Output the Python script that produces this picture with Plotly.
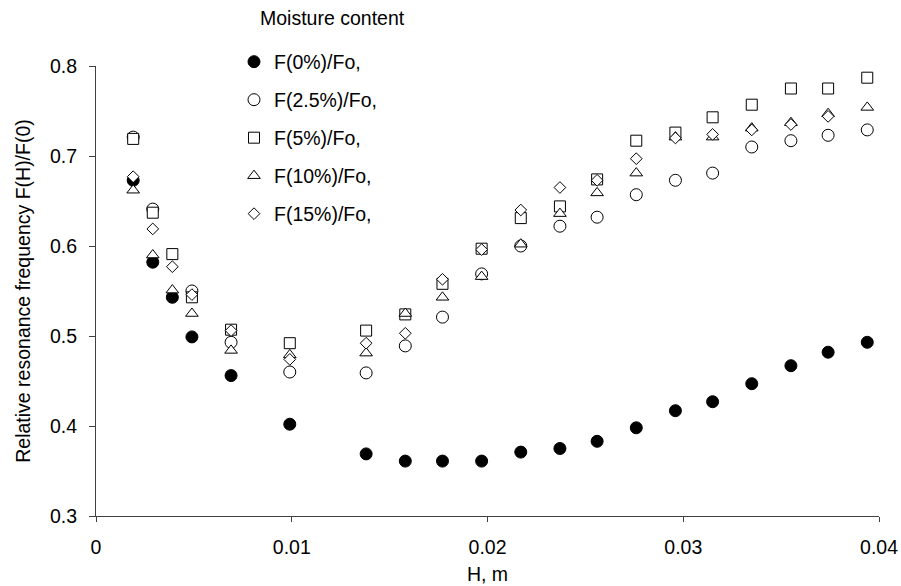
import plotly.graph_objects as go

H = [0.0019, 0.0029, 0.0039, 0.0049, 0.0069, 0.0099, 0.0138, 0.0158, 0.0177, 0.0197,
     0.0217, 0.0237, 0.0256, 0.0276, 0.0296, 0.0315, 0.0335, 0.0355, 0.0374, 0.0394]

f0 = [0.673, 0.582, 0.543, 0.499, 0.456, 0.402, 0.369, 0.361, 0.361, 0.361,
      0.371, 0.375, 0.383, 0.398, 0.417, 0.427, 0.447, 0.467, 0.482, 0.493]
f25 = [0.721, 0.641, None, 0.550, 0.493, 0.460, 0.459, 0.489, 0.521, 0.569,
       0.600, 0.622, 0.632, 0.657, 0.673, 0.681, 0.710, 0.717, 0.723, 0.729]
f5 = [0.719, 0.637, 0.591, 0.543, 0.507, 0.492, 0.506, 0.524, 0.558, 0.597,
      0.631, 0.644, 0.674, 0.717, 0.726, 0.743, 0.757, 0.775, 0.775, 0.787]
f10 = [0.662, 0.590, 0.551, 0.525, 0.484, 0.479, 0.481, 0.525, 0.543, 0.566,
       0.602, 0.636, 0.659, 0.681, 0.721, 0.721, 0.731, 0.737, 0.747, 0.754]
f15 = [0.677, 0.619, 0.577, 0.546, 0.506, 0.474, 0.492, 0.503, 0.563, 0.596,
       0.640, 0.665, 0.673, 0.697, 0.720, 0.724, 0.729, 0.735, 0.744, None]

names = ["F(0%)/Fo,", "F(2.5%)/Fo,", "F(5%)/Fo,", "F(10%)/Fo,", "F(15%)/Fo,"]
series = [f0, f25, f5, f10, f15]
symbols = ["circle", "circle", "square", "triangle-up", "diamond"]
sizes = [12, 12, 11, 11, 9]
fills = ["black", "white", "white", "white", "white"]

FONT = "Liberation Sans, Arial, sans-serif"
FS = 19.5
fig = go.Figure()
legend_names = ["legend", "legend2", "legend3", "legend4", "legend5"]
item_px = [62, 100, 138, 176, 214]
for i in range(5):
    fig.add_trace(go.Scatter(
        x=H, y=series[i], mode="markers", name=names[i],
        marker=dict(symbol=symbols[i], size=sizes[i], color=fills[i],
                    line=dict(color="black", width=1)),
        legend=legend_names[i], cliponaxis=False,
    ))

layout_legends = {}
for i, ln in enumerate(legend_names):
    layout_legends[ln] = dict(
        x=(234 - 96) / 783, xanchor="left",
        y=(516 - item_px[i]) / 450, yanchor="middle",
        bgcolor="rgba(0,0,0,0)", borderwidth=0,
        font=dict(family=FONT, size=FS, color="black"),
        itemsizing="trace",
    )

fig.update_layout(
    width=901, height=586,
    margin=dict(l=96, r=22, t=66, b=70),
    plot_bgcolor="white", paper_bgcolor="white",
    font=dict(family=FONT, size=FS, color="black"),
    showlegend=True,
    **layout_legends,
    xaxis=dict(range=[0, 0.04], tickvals=[0, 0.01, 0.02, 0.03, 0.04],
               ticktext=["0", "0.01", "0.02", "0.03", "0.04"],
               showline=True, linecolor="#404040", linewidth=1,
               ticks="outside", ticklen=5, tickcolor="#404040",
               ticklabelstandoff=9, automargin=False,
               showgrid=False, zeroline=False,
               title=dict(text="H, m", standoff=9, font=dict(size=FS))),
    yaxis=dict(range=[0.3, 0.8], tickvals=[0.3, 0.4, 0.5, 0.6, 0.7, 0.8],
               ticktext=["0.3", "0.4", "0.5", "0.6", "0.7", "0.8"],
               showline=True, linecolor="#404040", linewidth=1,
               ticks="outside", ticklen=6, tickcolor="#404040",
               ticklabelstandoff=8, automargin=False,
               showgrid=False, zeroline=False,
               title=dict(text="Relative resonance frequency F(H)/F(0)", standoff=14,
                          font=dict(size=FS))),
    annotations=[dict(text="Moisture content", xref="paper", yref="paper",
                      x=(258 - 96) / 783, y=(516 - 18) / 450,
                      xanchor="left", yanchor="middle", showarrow=False,
                      font=dict(family=FONT, size=FS, color="black"))],
)

fig.write_html("out.html")
